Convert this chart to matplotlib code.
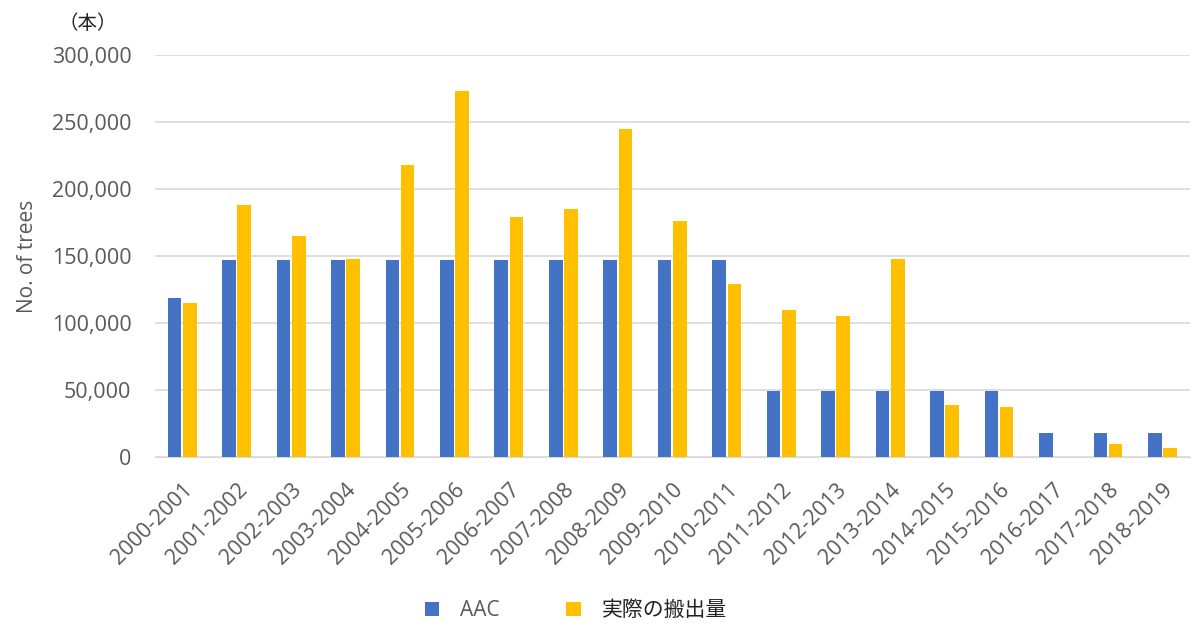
import numpy as np
import matplotlib
matplotlib.use("Agg")
import matplotlib.pyplot as plt
from matplotlib.ticker import FuncFormatter

plt.rcParams['font.family'] = ['Open Sans', 'Noto Sans CJK JP', 'DejaVu Sans']

# data
years = ["2000-2001", "2001-2002", "2002-2003", "2003-2004", "2004-2005",
         "2005-2006", "2006-2007", "2007-2008", "2008-2009", "2009-2010",
         "2010-2011", "2011-2012", "2012-2013", "2013-2014", "2014-2015",
         "2015-2016", "2016-2017", "2017-2018", "2018-2019"]
aac = [119000, 147000, 147000, 147000, 147000, 147000, 147000, 147000, 147000, 147000,
       147000, 49000, 49000, 49000, 49000, 49000, 18000, 18000, 18000]
actual = [115000, 188000, 165000, 148000, 218000, 273000, 179000, 185000, 245000, 176000,
          129000, 110000, 105000, 148000, 39000, 37000, 0, 10000, 7000]

blue = "#4472C4"
gold = "#FFC000"
grey = "#595959"

fig = plt.figure(figsize=(11.92, 6.28), dpi=100)
ax = fig.add_axes([0.130, 0.2723, 0.868, 0.6400])

x = np.arange(len(years))
w = 0.25
ax.bar(x - 0.14, aac, w, color=blue, label="AAC", zorder=3)
ax.bar(x + 0.14, actual, w, color=gold, label="実際の搬出量", zorder=3)

ax.set_xlim(-0.5, len(years) - 0.5)
ax.set_ylim(0, 300000)
ax.set_yticks(np.arange(0, 300001, 50000))
ax.yaxis.set_major_formatter(FuncFormatter(lambda v, p: f"{int(v):,}"))
ax.grid(axis='y', color="#D9D9D9", linewidth=1.2, zorder=0)

for s in ["top", "right", "left"]:
    ax.spines[s].set_visible(False)
ax.spines["bottom"].set_color("#D9D9D9")
ax.tick_params(axis='y', length=0, labelsize=15.5, labelcolor=grey, pad=17)
ax.tick_params(axis='x', length=0, labelsize=15.5, labelcolor=grey, pad=16)

ax.set_xticks(x)
ax.set_xticklabels(years, rotation=45, ha='right', rotation_mode='anchor')

ax.set_ylabel("No. of trees", fontsize=15, color=grey, labelpad=10)
fig.text(0.074, 0.962, "（本）", fontsize=14, color="#222222",
         family=['Noto Sans CJK JP'], ha='center', va='center')

leg = ax.legend(loc='center', bbox_to_anchor=(0.483, 0.0285), bbox_transform=fig.transFigure,
                ncol=2, frameon=False, fontsize=15, handlelength=0.7, handleheight=0.7,
                columnspacing=3.2, handletextpad=1.0)
texts = leg.get_texts()
texts[0].set_color(grey)
texts[1].set_color("#222222")
texts[1].set_family(['Noto Sans CJK JP'])

fig.savefig("out.png", dpi=100)
